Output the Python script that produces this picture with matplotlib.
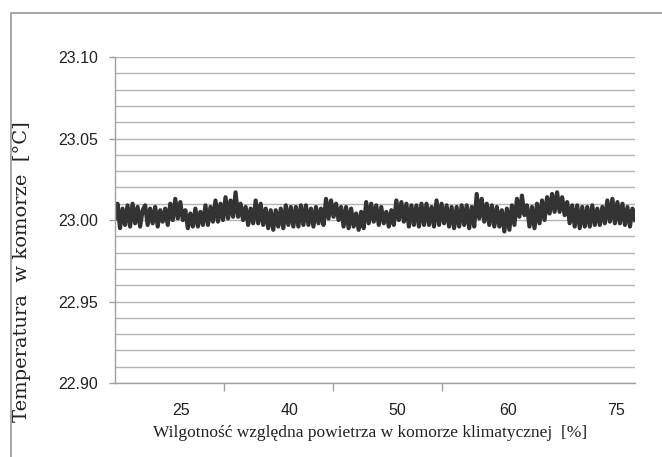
import numpy as np
import matplotlib
matplotlib.use("agg")
import matplotlib.pyplot as plt
from matplotlib.ticker import MultipleLocator, FixedLocator, NullFormatter
from matplotlib.patches import Rectangle

# temperature readings in the chamber [C]
temperature = [
    23.001, 23.010, 22.995, 23.007, 22.997, 23.009, 22.996, 23.010,
    22.998, 23.008, 22.996, 23.006, 23.009, 22.997, 23.007, 22.998,
    23.008, 22.996, 23.006, 22.999, 23.007, 22.997, 23.010, 23.000,
    23.013, 23.001, 23.011, 23.000, 23.006, 22.995, 23.004, 22.996,
    23.007, 22.996, 23.005, 22.997, 23.009, 22.997, 23.008, 22.999,
    23.012, 22.999, 23.010, 23.000, 23.014, 23.001, 23.012, 23.002,
    23.017, 23.002, 23.010, 23.000, 23.008, 22.997, 23.007, 22.998,
    23.012, 22.998, 23.010, 22.997, 23.007, 22.995, 23.006, 22.994,
    23.006, 22.996, 23.007, 22.995, 23.009, 22.997, 23.008, 22.996,
    23.008, 22.996, 23.009, 22.997, 23.009, 22.997, 23.007, 22.996,
    23.008, 22.998, 23.007, 22.997, 23.013, 23.001, 23.012, 23.002,
    23.010, 23.000, 23.008, 22.996, 23.008, 22.995, 23.007, 22.996,
    23.004, 22.994, 23.005, 22.995, 23.011, 22.998, 23.010, 22.999,
    23.009, 22.997, 23.008, 22.998, 23.005, 22.996, 23.006, 22.997,
    23.012, 23.000, 23.011, 22.999, 23.010, 22.996, 23.009, 22.997,
    23.009, 22.996, 23.010, 22.997, 23.010, 22.997, 23.008, 22.996,
    23.012, 22.997, 23.010, 22.998, 23.009, 22.996, 23.008, 22.995,
    23.008, 22.996, 23.009, 22.997, 23.009, 22.995, 23.008, 22.996,
    23.016, 23.001, 23.013, 22.999, 23.010, 22.997, 23.009, 22.996,
    23.008, 22.996, 23.006, 22.993, 23.007, 22.994, 23.009, 22.997,
    23.013, 23.002, 23.015, 23.003, 23.009, 22.996, 23.008, 22.995,
    23.010, 22.998, 23.012, 23.000, 23.014, 23.004, 23.016, 23.005,
    23.017, 23.005, 23.014, 23.003, 23.011, 22.998, 23.009, 22.996,
    23.009, 22.995, 23.008, 22.996, 23.008, 22.996, 23.009, 22.997,
    23.007, 22.997, 23.008, 22.998, 23.012, 22.999, 23.013, 22.998,
    23.011, 22.998, 23.010, 22.997, 23.008, 22.996, 23.007, 23.000,
]
humidity_labels = ['25', '40', '50', '60', '75']
y_ticks = [22.90, 22.95, 23.00, 23.05, 23.10]

sample = np.arange(len(temperature))
n = len(temperature) - 1

fig = plt.figure(figsize=(6.62, 4.57), dpi=100)
ax = fig.add_axes([0.1737, 0.1619, 0.7855, 0.7133])

# outer frame of the chart area
fig.patches.append(Rectangle((11 / 662, -0.05), 1.1, (457 - 13) / 457 + 0.05,
                             transform=fig.transFigure, fill=False,
                             edgecolor='#a0a0a0', linewidth=1.3))

ax.plot(sample, temperature, color='#333333', linewidth=3.0, solid_joinstyle='round')

ax.set_xlim(0, n)
ax.set_ylim(22.90, 23.10)

ax.yaxis.set_major_locator(FixedLocator(y_ticks))
ax.yaxis.set_minor_locator(MultipleLocator(0.01))
ax.set_yticklabels(['%.2f' % v for v in y_ticks])
ax.grid(True, which='both', axis='y', color='#b4b4b4', linewidth=1.0)
ax.set_axisbelow(True)

# tick marks and category labels sit at different places
step = n / 207 * 43.4
ax.xaxis.set_major_locator(FixedLocator([step * k for k in range(1, 4)]))
ax.xaxis.set_major_formatter(NullFormatter())
label_pos = [26.3, 69.3, 112.3, 156.4, 199.4]
for p, lab in zip(label_pos, humidity_labels):
    ax.text(p, -0.085, lab, transform=ax.get_xaxis_transform(), ha='center', va='center',
            fontsize=11.5, family='Liberation Sans', color='#222222')

ax.tick_params(axis='y', which='major', length=4, width=1, color='#a0a0a0',
               labelsize=11.5, pad=8, labelcolor='#222222')
ax.tick_params(axis='y', which='minor', length=0)
ax.tick_params(axis='x', which='major', length=6, width=1, color='#a0a0a0')
for lab in ax.get_yticklabels():
    lab.set_family('Liberation Sans')

for side in ['top', 'right']:
    ax.spines[side].set_visible(False)
for side in ['left', 'bottom']:
    ax.spines[side].set_color('#a0a0a0')
    ax.spines[side].set_linewidth(1.0)

fig.text(370, 457 - 433, 'Wilgotność względna powietrza w komorze klimatycznej  [%]',
         transform=None, ha='center', va='center', fontsize=12.5,
         family='Liberation Serif', color='#222222')
fig.text(22, 457 - 272, 'Temperatura  w komorze  [°C]', transform=None,
         rotation=90, ha='center', va='center', fontsize=14,
         family='DejaVu Serif', color='#222222')

plt.savefig('out.png', dpi=100)
